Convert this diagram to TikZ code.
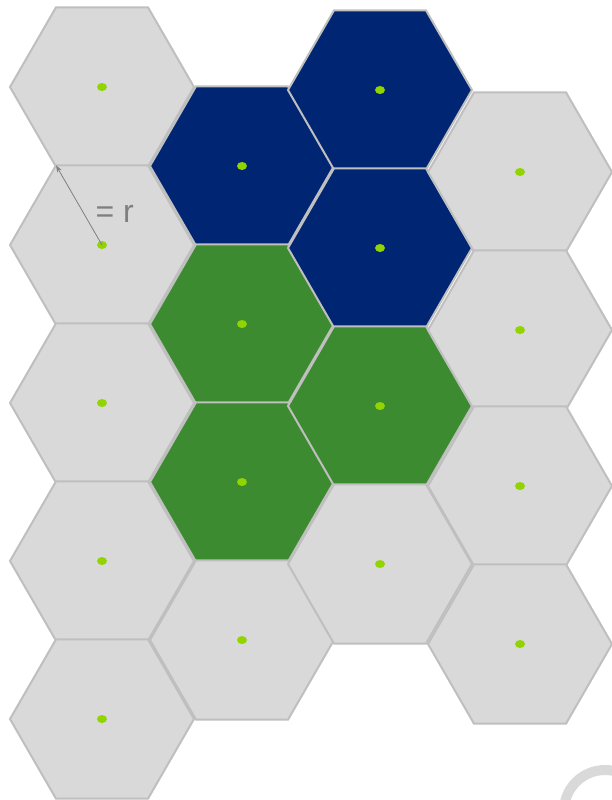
\documentclass[tikz,border=0pt]{standalone}
\usepackage{fontspec}
\setsansfont{Liberation Sans}
\usetikzlibrary{shapes.geometric,arrows.meta}
\definecolor{cellgrey}{HTML}{D9D9D9}
\definecolor{celledge}{HTML}{BFBFBF}
\definecolor{cellnavy}{HTML}{002673}
\definecolor{cellgreen}{HTML}{3D8B30}
\definecolor{dotgreen}{HTML}{92D400}
\definecolor{labelgrey}{HTML}{7F7F7F}
\tikzset{
    hexcell/.style={
        regular polygon,
        regular polygon sides=6,
        minimum size=184pt,
        inner sep=0pt, outer sep=0pt,
        draw=celledge, line width=2pt
    },
    grey/.style={hexcell, fill=cellgrey},
    navy/.style={hexcell, fill=cellnavy},
    green/.style={hexcell, fill=cellgreen},
    centre dot/.style={fill=dotgreen}
}

\begin{document}
\begin{tikzpicture}[x=1pt, y=-1pt]
    \useasboundingbox (0,0) rectangle (612,800);

    \foreach \name/\x/\y/\kind in {
        H11/102/87/grey, H12/102/245/grey, H13/102/403/grey,
        H14/102/561/grey, H15/102/719/grey,
        H21/242/166/navy, H22/242/324/green, H23/242/482/green, H24/242/640/grey,
        H31/380/90/navy, H32/380/248/navy, H33/380/406/green, H34/380/564/grey,
        H41/520/172/grey, H42/520/330/grey, H43/520/486/grey, H44/520/644/grey}
    {
        \node [\kind] (\name) at (\x,\y) {};
        \fill [centre dot] (\name.center) ellipse (5 and 4);
    }

    % radius marker
    \draw [labelgrey, line width=0.8pt, -{Stealth[length=7pt, width=5pt]}]
        (H12.center) -- (H12.corner 2);
    \node [labelgrey, font=\sffamily\fontsize{32}{34}\selectfont, anchor=west]
        (rlabel) at (92,214) {= r};

    % watermark
    \draw [cellgrey, line width=10pt] (605,811) circle (41);
\end{tikzpicture}
\end{document}
